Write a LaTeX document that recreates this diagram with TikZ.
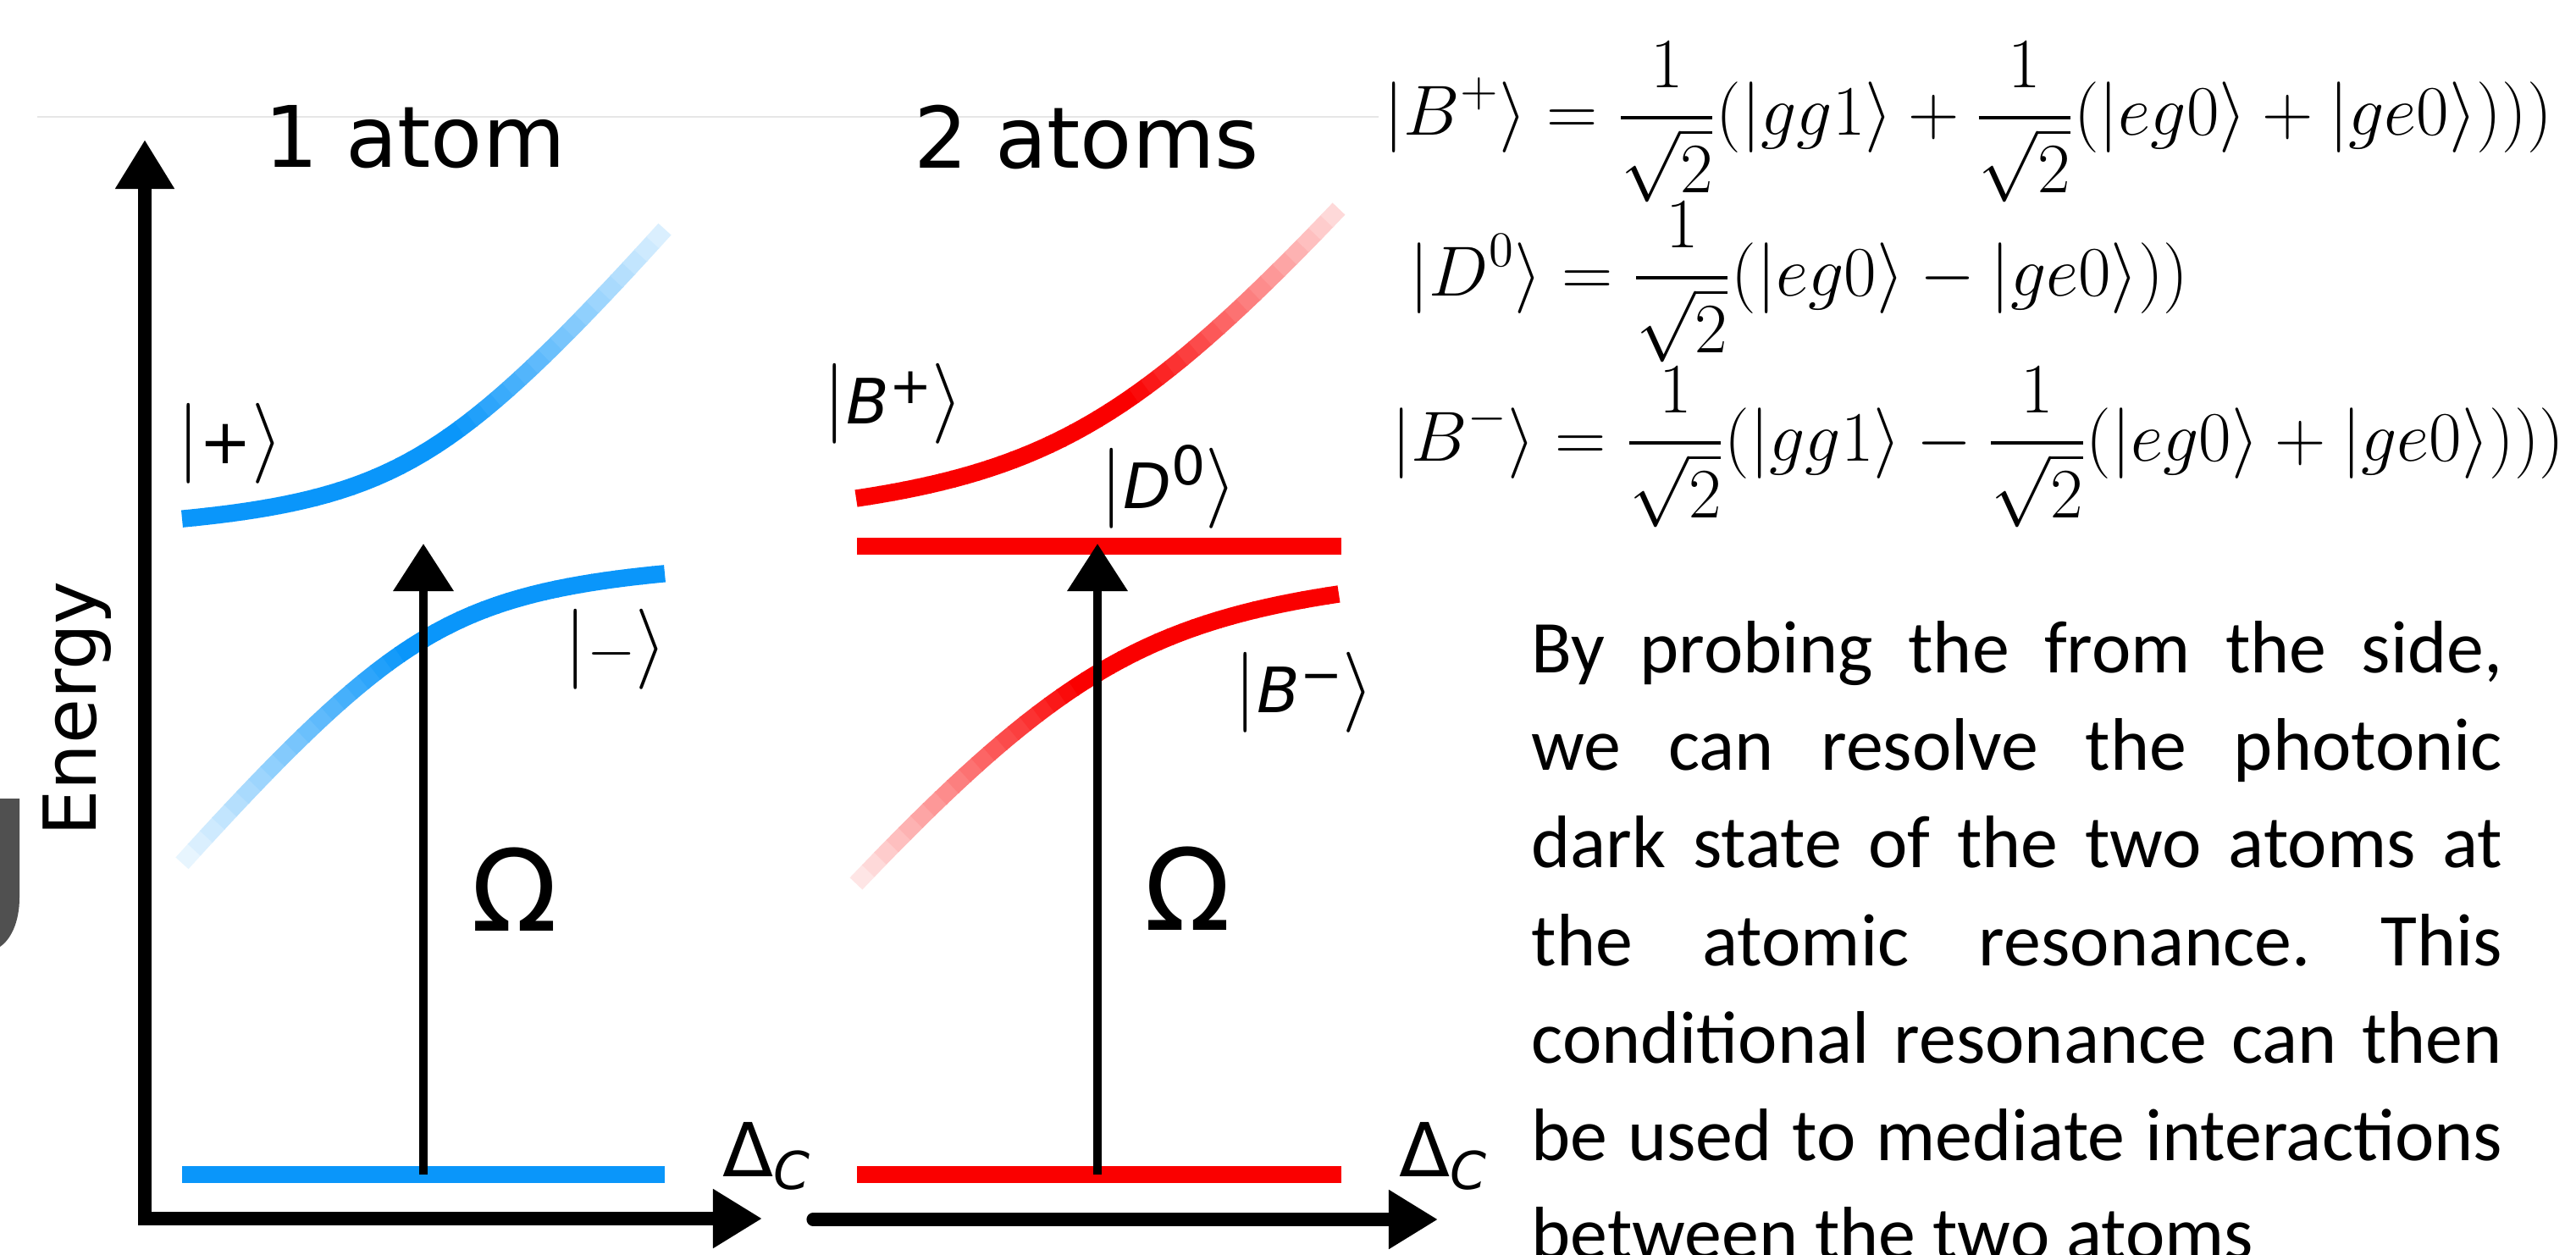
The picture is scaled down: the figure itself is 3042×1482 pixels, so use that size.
\RequirePackage{fix-cm}
\documentclass[tikz,border=0pt]{standalone}
\usepackage{amsmath}
\usepackage{fontspec}
\usepackage{xcolor}
\usepackage{tikz}
\usetikzlibrary{arrows.meta}
\usetikzlibrary{positioning}

\newfontfamily\labelfont{DejaVu Sans}
\newfontfamily\notefont{Carlito}

\definecolor{levelblue}{RGB}{10,150,250}
\definecolor{levelred}{RGB}{250,0,0}
\definecolor{rulegrey}{RGB}{230,230,230}
\definecolor{tabgrey}{RGB}{80,80,80}

\newcommand{\statelbl}[1]{{\fontsize{27}{30}\selectfont$|$}#1{\fontsize{27}{30}\selectfont$\rangle$}}
\newcommand{\supsym}[1]{\raisebox{0.33em}{\fontsize{17}{19}\selectfont #1}}

% one dressed branch, drawn in short pieces so that its far end fades out
\newcommand{\levelbranch}[4]{%
  \foreach \k in {0,...,39}{%
    \pgfmathsetmacro\xa{#2-285+\k*14.25}%
    \pgfmathsetmacro\xb{min(\xa+15.5,#2+285)}%
    \pgfmathsetmacro\fade{max(10,min(100,100-(((#4)*(\xa-#2)-30)/255)*90))}%
    \draw[level line, #1!\fade!white]
      plot[domain=\xa:\xb, samples=4]
      (\x, {645-100*(0.6*(\x-#2)/100+(#4)*sqrt((0.6*(\x-#2)/100)^2+(#3/100)^2))});
  }%
}

\begin{document}
\begin{tikzpicture}[
    x=0.01cm, y=-0.01cm,
    every node/.style={inner sep=0pt},
    axis line/.style={line width=4.3pt, line join=miter},
    level line/.style={line width=5.8pt},
    drive arrow/.style={-{Triangle[length=5.6mm, width=6.9mm]}, line width=3pt},
    panel title/.style={font=\labelfont\fontsize{28.5}{34}\selectfont},
    state label/.style={font=\labelfont\fontsize{21}{25}\selectfont},
    rabi label/.style={font=\labelfont\fontsize{38}{44}\selectfont},
    detuning label/.style={font=\labelfont\fontsize{25}{30}\selectfont},
    ket eq/.style={anchor=base west, font=\fontsize{23.8}{28}\selectfont},
  ]
\tikzset{>={Triangle[length=5.8mm, width=6.6mm]}}

  \path[use as bounding box, fill=white] (0,0) rectangle (3042,1482);
  \clip (0,0) rectangle (3042,1482);

  \draw[rulegrey, line width=0.6pt] (44,138) -- (1628,138);
  \fill[tabgrey] (0,943) -- (23,943) -- (23,1060)
    .. controls (23,1090) and (12,1110) .. (0,1118) -- cycle;

  \coordinate (ytip)  at (171,165);
  \coordinate (orig)  at (171,1439);
  \coordinate (xtipA) at (900,1439);
  \coordinate (origB) at (960,1440);
  \coordinate (xtipB) at (1698,1440);

  \coordinate (gndA) at (500,1387);
  \coordinate (topA) at (500,642);
  \coordinate (gndB) at (1296,1387);
  \coordinate (topB) at (1296,642);

  \draw[level line, levelblue] (215,1387) -- (785,1387);
  \draw[level line, levelred] (1012,1387) -- (1584,1387);
  \draw[level line, levelred] (1012,645) -- (1584,645);

  \levelbranch{levelblue}{500}{110}{1}
  \levelbranch{levelblue}{500}{110}{-1}
  \levelbranch{levelred}{1296}{150}{1}
  \levelbranch{levelred}{1296}{150}{-1}

  \draw[axis line, <->] (ytip) -- (orig) -- (xtipA);
  \draw[axis line, ->, line cap=round] (origB) -- (xtipB);

  \draw[drive arrow] (gndA) -- (topA);
  \draw[drive arrow] (gndB) -- (topB);

  \node[panel title, anchor=base west] (titleA) at (312,198) {1 atom};
  \node[panel title, anchor=base west] (titleB) at (1079,199) {2 atoms};
  \node[rotate=90, anchor=base, font=\labelfont\fontsize{24.5}{29}\selectfont] (energy) at (113,837) {Energy};

  \node[state label] (plus)   at (272,524)  {\statelbl{+}};
  \node[state label] (minus)  at (727,767)  {\statelbl{$-$}};
  \node[state label] (bplus)  at (1055,477) {\statelbl{\textit{B}\supsym{+}}};
  \node[state label] (dzero)  at (1380,575) {\statelbl{\textit{D}\raisebox{0.38em}{\fontsize{18}{20}\selectfont 0}}};
  \node[state label] (bminus) at (1540,818) {\statelbl{\textit{B}\supsym{−}}};

  \node[rabi label] (rabiA) at (608,1050)  {Ω};
  \node[rabi label] (rabiB) at (1403,1049) {Ω};
  \node[detuning label, anchor=base west] (detA) at (853,1389)  {Δ\textsubscript{\itshape C}};
  \node[detuning label, anchor=base west] (detB) at (1652,1389) {Δ\textsubscript{\itshape C}};

  \node[ket eq] (eqbplus) at (1634,160)
    {$\displaystyle |B^{+}\rangle = \frac{1}{\sqrt{2}}(|gg1\rangle + \frac{1}{\sqrt{2}}(|eg0\rangle + |ge0\rangle)))$};
  \node[ket eq] (eqdzero) at (1664,349)
    {$\displaystyle |D^{0}\rangle = \frac{1}{\sqrt{2}}(|eg0\rangle - |ge0\rangle))$};
  \node[ket eq] (eqbminus) at (1643,544)
    {$\displaystyle |B^{-}\rangle = \frac{1}{\sqrt{2}}(|gg1\rangle - \frac{1}{\sqrt{2}}(|eg0\rangle + |ge0\rangle)))$};

  \node[anchor=base west] (note) at (1808,794) {\parbox[t]{326pt}{\notefont\fontsize{25}{32.8}\selectfont
    \frenchspacing\hyphenpenalty=10000 \tolerance=10000
    By probing the from the side,\linebreak
    we can resolve the photonic\linebreak
    dark state of the two atoms at\linebreak
    the atomic resonance. This\linebreak
    conditional resonance can then\linebreak
    be used to mediate interactions\linebreak
    between the two atoms}};

\end{tikzpicture}
\end{document}
